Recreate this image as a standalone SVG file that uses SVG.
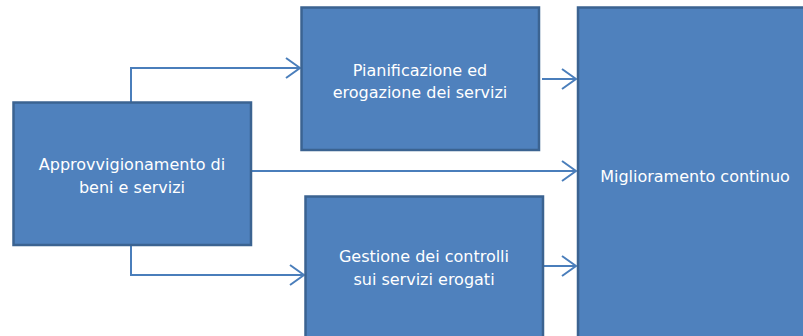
<svg xmlns="http://www.w3.org/2000/svg" width="803" height="336" viewBox="0 0 803 336">
<defs>
<style>
.box{fill:#4F81BD;stroke:#3B6391;stroke-width:2.5}
.t{font-family:"DejaVu Sans",Verdana,sans-serif;font-size:16px;fill:#FFFFFF;text-anchor:middle}
.c{fill:none;stroke:#4A7EBB;stroke-width:2}
</style>
<marker id="arr" viewBox="0 0 16 22" refX="15" refY="11" markerWidth="16" markerHeight="22" markerUnits="userSpaceOnUse" orient="auto">
<path d="M1,1 L15,11 L1,21" fill="none" stroke="#4A7EBB" stroke-width="2"/>
</marker>
</defs>
<rect width="803" height="336" fill="#FFFFFF"/>
<g id="connectors">
<path class="c" d="M131,102 V68 H300" marker-end="url(#arr)"/>
<path class="c" d="M131,245 V275 H304" marker-end="url(#arr)"/>
<path class="c" d="M251,171 H576" marker-end="url(#arr)"/>
<path class="c" d="M542,79 H576" marker-end="url(#arr)"/>
<path class="c" d="M543,266 H576" marker-end="url(#arr)"/>
</g>
<g id="approvvigionamento">
<rect class="box" x="13.5" y="102.5" width="237.5" height="142.5"/>
<text class="t" x="132" y="170">Approvvigionamento di</text>
<text class="t" x="132" y="193">beni e servizi</text>
</g>
<g id="pianificazione">
<rect class="box" x="301.5" y="7.5" width="237.5" height="142.5"/>
<text class="t" x="420" y="76">Pianificazione ed</text>
<text class="t" x="420" y="98">erogazione dei servizi</text>
</g>
<g id="gestione">
<rect class="box" x="305.5" y="196.5" width="237.5" height="150"/>
<text class="t" x="424" y="262">Gestione dei controlli</text>
<text class="t" x="424" y="285">sui servizi erogati</text>
</g>
<g id="miglioramento">
<rect class="box" x="578" y="7.5" width="240" height="340"/>
<text class="t" x="695" y="182">Miglioramento continuo</text>
</g>
</svg>
